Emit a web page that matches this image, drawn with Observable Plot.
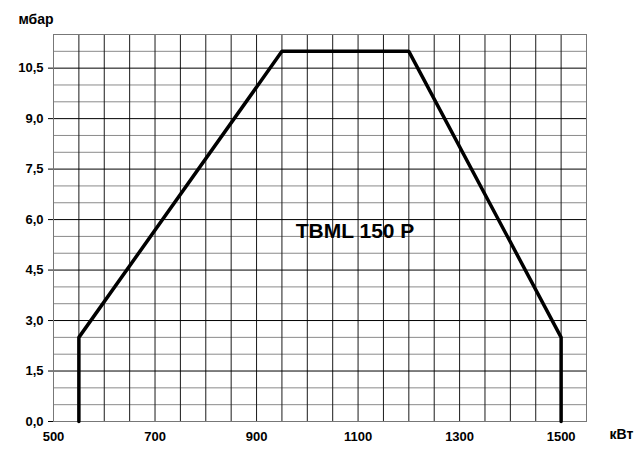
<!DOCTYPE html>
<html>
<head>
<meta charset="utf-8">
<script src="https://cdn.jsdelivr.net/npm/d3@7"></script>
<script src="https://cdn.jsdelivr.net/npm/@observablehq/plot@0.6"></script>
<style>
  html, body { margin: 0; padding: 0; background: #fff; }
  svg { display: block; font-family: "Liberation Sans", Arial, sans-serif; }
</style>
</head>
<body>
<div id="chart"></div>
<script>
// Working field outline (power kW, pressure mbar)
const powerKW = [550, 550, 950, 1200, 1500, 1500];
const pressureMbar = [0, 2.5, 11.0, 11.0, 2.5, 0];

// Tick labels
const xTicks = [500, 700, 900, 1100, 1300, 1500];
const yTicks = [0, 1.5, 3.0, 4.5, 6.0, 7.5, 9.0, 10.5];
// Grid lines
const xGrid = d3.range(500, 1551, 50);
const yGridMajor = yTicks;
const yGridMinor = d3.range(0, 11.51, 0.5).filter(v => Math.abs(v / 1.5 - Math.round(v / 1.5)) > 1e-6);

const modelLabel = "TBML 150 P";
const yUnit = "мбар";
const xUnit = "кВт";

const outline = powerKW.map((x, i) => ({x, y: pressureMbar[i]}));

const chart = Plot.plot({
  width: 640,
  height: 457,
  marginLeft: 53,
  marginRight: 54,
  marginTop: 34,
  marginBottom: 36,
  style: {fontFamily: "Liberation Sans, Arial, sans-serif", fontSize: "13px", fontWeight: "bold", color: "#000", background: "#fff"},
  x: {domain: [500, 1550], ticks: xTicks, tickFormat: d => String(d), label: null},
  y: {domain: [0, 11.5], ticks: yTicks, tickFormat: d => d.toFixed(1).replace(".", ","), label: null},
  marks: [
    Plot.ruleY(yGridMinor, {stroke: "#8a8a8a", strokeWidth: 1}),
    Plot.ruleX(xGrid, {stroke: "#1a1a1a", strokeWidth: 1}),
    Plot.ruleY(yGridMajor, {stroke: "#000", strokeWidth: 1}),
    Plot.frame({stroke: "#777", strokeWidth: 1}),
    Plot.axisY({ticks: yTicks, tickFormat: d => d.toFixed(1).replace(".", ","), tickSize: 5, tickPadding: 5, stroke: "#000", strokeOpacity: 1, fontSize: 13, fontWeight: "bold"}),
    Plot.axisX({ticks: xTicks, tickFormat: d => String(d), tickSize: 0, tickPadding: 10, fontSize: 13, fontWeight: "bold"}),
    Plot.line(outline, {x: "x", y: "y", stroke: "#000", strokeWidth: 3.5, strokeLinejoin: "miter"}),
    Plot.text([modelLabel], {x: 1094, y: 5.65, text: d => d, fontSize: 21, fontWeight: "bold", fill: "#000"}),
    Plot.text([yUnit], {frameAnchor: "top-left", dx: -17.5, dy: -20, text: d => d, fontSize: 14, fontWeight: "bold", textAnchor: "middle", fill: "#000"}),
    Plot.text([xUnit], {frameAnchor: "bottom-right", dx: 35, dy: 17, text: d => d, fontSize: 14, fontWeight: "bold", textAnchor: "middle", fill: "#000"})
  ]
});
document.getElementById("chart").appendChild(chart);
</script>
</body>
</html>
